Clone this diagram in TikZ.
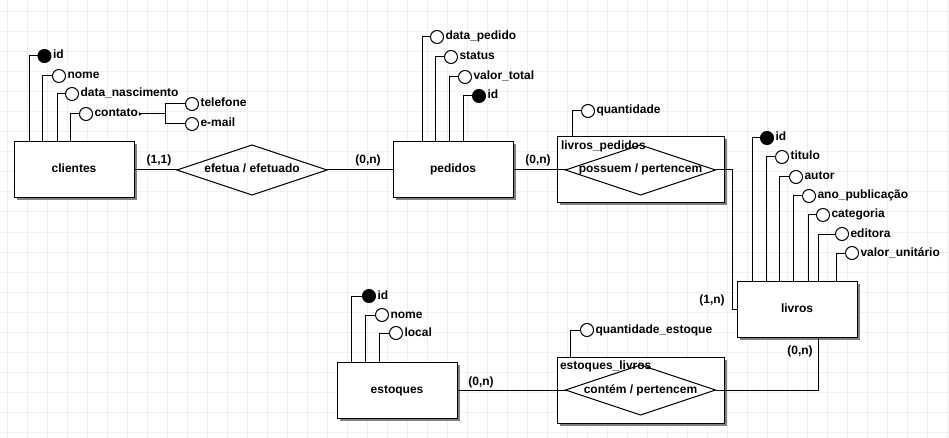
\documentclass[tikz,border=0pt]{standalone}
\usepackage{fontspec}
\setmainfont{Liberation Sans}
\usetikzlibrary{shapes.geometric,shadows,positioning,arrows.meta}
\definecolor{gridc}{RGB}{236,239,243}
\definecolor{shadowc}{RGB}{128,128,128}
\begin{document}
\begin{tikzpicture}[x=1pt,y=-1pt,
  every node/.style={font=\fontsize{12pt}{14pt}\selectfont\bfseries, inner sep=0pt, outer sep=0pt},
  shad/.style={drop shadow={shadow xshift=2.5pt, shadow yshift=-2.5pt, fill=shadowc, opacity=1}},
  entity/.style={draw, fill=white, line width=1pt, minimum width=120pt, minimum height=56pt, text height=9pt, text depth=3pt, shad},
  assoc/.style={draw, fill=white, line width=1pt, minimum width=167pt, minimum height=66pt, shad},
  rel/.style={diamond, draw, line width=1pt, minimum width=150pt, minimum height=50pt, inner sep=0pt},
  attr/.style={circle, draw, fill=white, line width=1pt, minimum size=13pt, inner sep=0pt},
  key/.style={attr, fill=black},
  lbl/.style={anchor=west, text height=9pt, text depth=3pt},
  card/.style={text height=9pt, text depth=3pt},
  conn/.style={line width=1pt},
]
\useasboundingbox (0,0) rectangle (949,438);
\fill[white] (0,0) rectangle (949,438);
\foreach \x in {7,27,...,947} \draw[gridc, line width=1pt] (\x,0) -- (\x,438);
\foreach \y in {12,32,...,432} \draw[gridc, line width=1pt] (0,\y) -- (949,\y);

% entities
\node[entity] (clientes) at (74,170) {clientes};
\node[entity] (pedidos) at (453,170) {pedidos};
\node[entity] (livros) at (797,309) {livros};
\node[entity] (estoques) at (397,390) {estoques};

% relationships
\node[rel] (efetua) at (252,170) {};
\node[card] (efetuaT) at (efetua) {efetua / efetuado};

\node[assoc] (lp) at (640.5,170) {};
\node[rel] (possuem) at (640.5,170) {};
\node[anchor=base west] (lpT) at (561,150) {livros\_pedidos};
\node[card] (possuemT) at (possuem) {possuem / pertencem};

\node[assoc] (el) at (640.5,390.5) {};
\node[rel] (contem) at (640.5,390) {};
\node[anchor=base west] (elT) at (560,369) {estoques\_livros};
\node[card] (contemT) at (contem) {contém / pertencem};

% clientes attributes
\node[key] (c1) at (44.5,56) {};   \node[lbl, right=2pt of c1] (c1l) {id};
\node[attr] (c2) at (59,76) {};    \node[lbl, right=2pt of c2] (c2l) {nome};
\node[attr] (c3) at (72,94) {};    \node[lbl, right=2pt of c3] (c3l) {data\_nascimento};
\node[attr] (c4) at (86,114) {};   \node[lbl, right=2pt of c4] (c4l) {contato};
\node[attr] (tel) at (192,104) {}; \node[lbl, right=2pt of tel] (tell) {telefone};
\node[attr] (mail) at (192,124) {};\node[lbl, right=2pt of mail] (maill) {e-mail};
\coordinate (cj) at (165,114);
\draw[conn] ([xshift=15pt]clientes.north west) |- (c1.west);
\draw[conn] ([xshift=28pt]clientes.north west) |- (c2.west);
\draw[conn] ([xshift=43pt]clientes.north west) |- (c3.west);
\draw[conn] ([xshift=56pt]clientes.north west) |- (c4.west);
\draw[conn, {Latex[reversed,length=3pt,width=4pt]}-] ([xshift=1pt]c4l.east) -- (cj);
\draw[conn] (tel.west) -| (cj);
\draw[conn] (mail.west) -| (cj);

% pedidos attributes
\node[attr] (p1) at (437,37) {};  \node[lbl, right=2pt of p1] (p1l) {data\_pedido};
\node[attr] (p2) at (451,57) {};  \node[lbl, right=2pt of p2] (p2l) {status};
\node[attr] (p3) at (465,77) {};  \node[lbl, right=2pt of p3] (p3l) {valor\_total};
\node[key] (p4) at (479,96) {};   \node[lbl, right=2pt of p4] (p4l) {id};
\draw[conn] ([xshift=29pt]pedidos.north west) |- (p1.west);
\draw[conn] ([xshift=42pt]pedidos.north west) |- (p2.west);
\draw[conn] ([xshift=56pt]pedidos.north west) |- (p3.west);
\draw[conn] ([xshift=70pt]pedidos.north west) |- (p4.west);

% livros_pedidos attribute
\node[attr] (q1) at (588,111) {}; \node[lbl, right=2pt of q1] (q1l) {quantidade};
\draw[conn] ([xshift=15pt]lp.north west) |- (q1.west);

% livros attributes
\node[key] (l1) at (767,138) {};  \node[lbl, right=2pt of l1] (l1l) {id};
\node[attr] (l2) at (782,157) {}; \node[lbl, right=2pt of l2] (l2l) {titulo};
\node[attr] (l3) at (796,177) {}; \node[lbl, right=2pt of l3] (l3l) {autor};
\node[attr] (l4) at (809,196) {}; \node[lbl, right=2pt of l4] (l4l) {ano\_publicação};
\node[attr] (l5) at (823,215) {}; \node[lbl, right=2pt of l5] (l5l) {categoria};
\node[attr] (l6) at (842,234) {}; \node[lbl, right=2pt of l6] (l6l) {editora};
\node[attr] (l7) at (852,253) {}; \node[lbl, right=2pt of l7] (l7l) {valor\_unitário};
\draw[conn] ([xshift=15pt]livros.north west) |- (l1.west);
\draw[conn] ([xshift=29pt]livros.north west) |- (l2.west);
\draw[conn] ([xshift=42pt]livros.north west) |- (l3.west);
\draw[conn] ([xshift=56pt]livros.north west) |- (l4.west);
\draw[conn] ([xshift=71pt]livros.north west) |- (l5.west);
\draw[conn] ([xshift=81pt]livros.north west) |- (l6.west);
\draw[conn] ([xshift=99pt]livros.north west) |- (l7.west);

% estoques attributes
\node[key] (e1) at (369,296) {};  \node[lbl, right=2pt of e1] (e1l) {id};
\node[attr] (e2) at (382,315) {}; \node[lbl, right=2pt of e2] (e2l) {nome};
\node[attr] (e3) at (396,333) {}; \node[lbl, right=2pt of e3] (e3l) {local};
\draw[conn] ([xshift=14pt]estoques.north west) |- (e1.west);
\draw[conn] ([xshift=28pt]estoques.north west) |- (e2.west);
\draw[conn] ([xshift=42pt]estoques.north west) |- (e3.west);

% estoques_livros attribute
\node[attr] (q2) at (587,330) {}; \node[lbl, right=2pt of q2] (q2l) {quantidade\_estoque};
\draw[conn] ([xshift=13pt]el.north west) |- (q2.west);

% relationship connectors
\draw[conn] (clientes.east) -- (efetua.west);
\draw[conn] (efetua.east) -- (pedidos.west);
\draw[conn] (pedidos.east) -- (possuem.west);
\draw[conn] (possuem.east) -- ++(17,0) |- (livros.west);
\draw[conn] (estoques.east) -- (contem.west);
\draw[conn] (contem.east) -| ([xshift=81pt]livros.south west);

% cardinalities
\node[card] (k1) at (159,161) {(1,1)};
\node[card] (k2) at (368,161) {(0,n)};
\node[card] (k3) at (538,161) {(0,n)};
\node[card] (k4) at (712,300) {(1,n)};
\node[card] (k5) at (800,351) {(0,n)};
\node[card] (k6) at (481,382) {(0,n)};
\end{tikzpicture}
\end{document}
